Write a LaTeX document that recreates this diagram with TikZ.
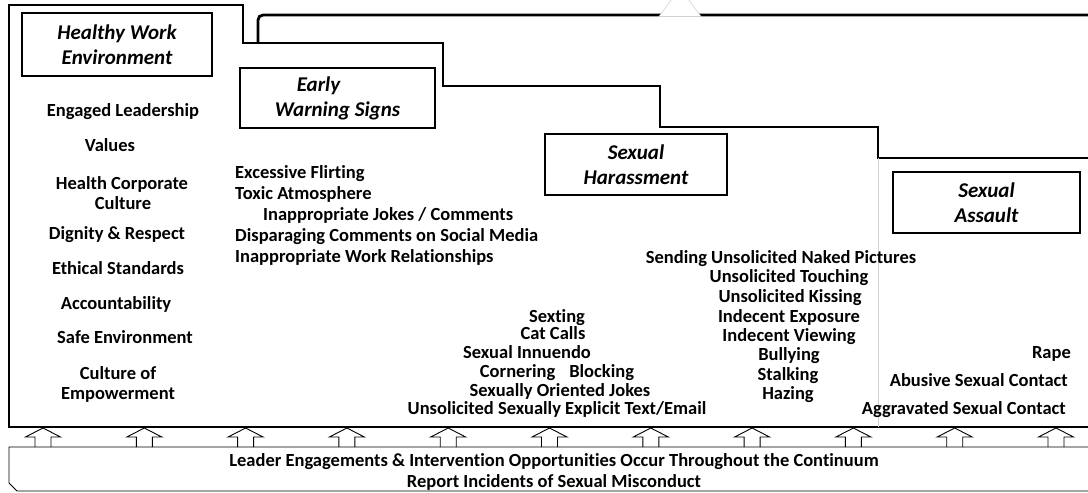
\documentclass[tikz,border=0pt]{standalone}
\usepackage{fontspec}
\setmainfont[Ligatures=NoCommon]{Carlito}
\begin{document}
\begin{tikzpicture}[x=1pt,y=-1pt,
  item/.style={font=\bfseries\fontsize{18.5}{20}\selectfont, inner sep=0pt, anchor=base},
  itemL/.style={item, anchor=base west},
  itemR/.style={item, anchor=base east},
  titlebox/.style={draw, line width=2.5pt, font=\bfseries\itshape\fontsize{21}{25}\selectfont, align=center, inner sep=0pt},
  stair/.style={line width=1.4pt, line join=miter},
  uparrow/.style={draw=black, fill=white, line width=0.9pt, line join=miter}
]
\useasboundingbox (0,0) rectangle (1088,493);
\clip (0,0) rectangle (1088,493);

% staircase outline
\draw[stair] (1095,158) -- (878,158) -- (878,127) -- (660,127) -- (660,86) -- (443,86) -- (443,43) -- (243,43) -- (243,5) -- (9,5) -- (9,427) -- (1095,427);
\draw[gray!35, line width=0.6pt] (878,158) -- (878,427);
% thick top line
\draw[line width=2.8pt, rounded corners=5pt] (258,43) -- (258,15) -- (1095,15);
\path[fill=white, draw=gray!40, line width=0.5pt] (659,16.5) -- (680,-12) -- (701,16.5) -- cycle;

% title boxes
\node[titlebox, minimum width=190pt, minimum height=63pt] (hwe) at (117,44.5) {Healthy Work\\Environment};
\node[titlebox, minimum width=195pt, minimum height=60pt] (ews) at (337.5,98) {\hspace*{-38pt}Early\\Warning Signs};
\node[titlebox, minimum width=182pt, minimum height=61pt] (sh) at (636,164.5) {Sexual\\Harassment};
\node[titlebox, minimum width=187pt, minimum height=61pt] (sa) at (986.5,202.5) {Sexual\\Assault};

% healthy work environment list
\node[item] (h1) at (123,116) {Engaged Leadership};
\node[item] (h2) at (110,151) {Values};
\node[item] (h3) at (122,189) {Health Corporate};
\node[item] (h4) at (123,209) {Culture};
\node[item] (h5) at (117,239) {Dignity \& Respect};
\node[item] (h6) at (118,274) {Ethical Standards};
\node[item] (h7) at (116,309) {Accountability};
\node[item] (h8) at (125,343) {Safe Environment};
\node[item] (h9) at (118,379) {Culture of};
\node[item] (h10) at (118,399) {Empowerment};

% early warning signs list
\node[itemL] (e1) at (235,178) {Excessive Flirting};
\node[itemL] (e2) at (235,199) {Toxic Atmosphere};
\node[itemL] (e3) at (263,220) {Inappropriate Jokes / Comments};
\node[itemL] (e4) at (235,241) {Disparaging Comments on Social Media};
\node[itemL] (e5) at (235,262) {Inappropriate Work Relationships};

% sexual harassment list 1
\node[item] (s1) at (557,322) {Sexting};
\node[item] (s2) at (553,339.5) {Cat Calls};
\node[item] (s3) at (527,358) {Sexual Innuendo};
\node[item] (s4) at (557,377) {Cornering\hspace{14pt}Blocking};
\node[item] (s5) at (560,396) {Sexually Oriented Jokes};
\node[item] (s6) at (557,414) {Unsolicited Sexually Explicit Text/Email};

% sexual harassment list 2
\node[item] (t1) at (781,263) {Sending Unsolicited Naked Pictures};
\node[item] (t2) at (789,282) {Unsolicited Touching};
\node[item] (t3) at (790,302) {Unsolicited Kissing};
\node[item] (t4) at (789,322) {Indecent Exposure};
\node[item] (t5) at (789,341) {Indecent Viewing};
\node[item] (t6) at (789,360) {Bullying};
\node[item] (t7) at (788,380) {Stalking};
\node[item] (t8) at (788,399) {Hazing};

% sexual assault list
\node[itemR] (a1) at (1071,358) {Rape};
\node[itemR] (a2) at (1068,386) {Abusive Sexual Contact};
\node[itemR] (a3) at (1066,414) {Aggravated Sexual Contact};

% arrows
\foreach \k in {0,...,10} {
  \pgfmathsetmacro\cx{43+101.3*\k}
  \draw[uparrow] ({\cx-8},447) -- ({\cx-8},437) -- ({\cx-17.5},437) -- (\cx,428) -- ({\cx+17.5},437) -- ({\cx+8},437) -- ({\cx+8},447);
}

% bottom box
\draw[line width=0.9pt] (1095,447) -- (9,447) -- (9,483) -- (17,491) -- (1095,491);
\node[item] (b1) at (554,466) {Leader Engagements \& Intervention Opportunities Occur Throughout the Continuum};
\node[item] (b2) at (554,487) {Report Incidents of Sexual Misconduct};
\end{tikzpicture}
\end{document}
